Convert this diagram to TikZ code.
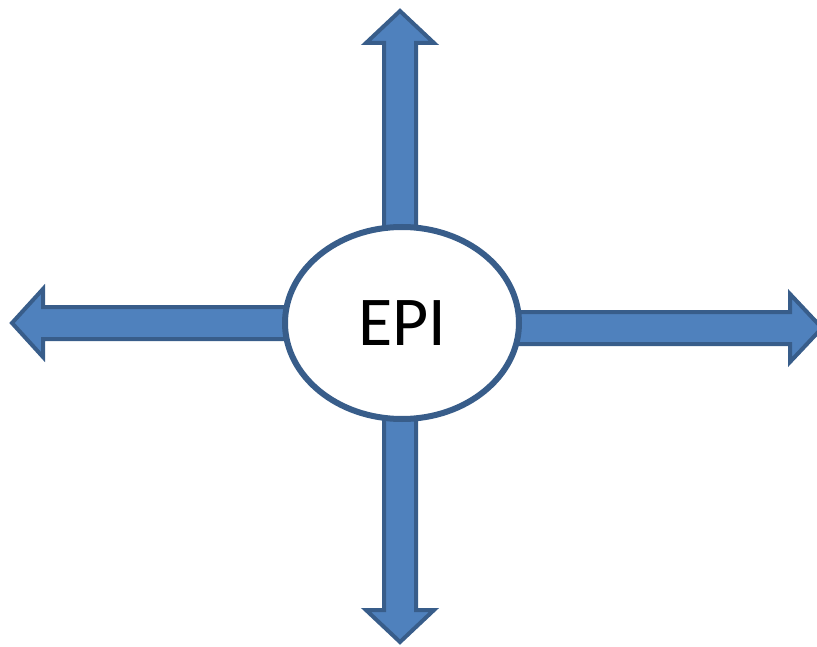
\documentclass[tikz,border=0pt]{standalone}
\usepackage{fontspec}
\setmainfont{Carlito}
\usetikzlibrary{shapes.geometric}
\usetikzlibrary{backgrounds}
\usepackage{xcolor}
\definecolor{arrowfill}{HTML}{4F81BD}
\definecolor{arrowline}{HTML}{385D8A}

\begin{document}
\begin{tikzpicture}[x=1pt, y=-1pt]
        % ================= 样式 =================
        \tikzset{
            hub/.style={ellipse, draw=arrowline, fill=white, line width=6pt, minimum width=234pt, minimum height=192pt, inner sep=0pt, font=\fontsize{70}{84}\selectfont},
            blockarrow/.style={draw=arrowline, fill=arrowfill, line width=4pt, line join=miter}
        }
        \useasboundingbox (0,0) rectangle (817,647);

        % 中心椭圆
        \node[hub] (epi) at (402,323) {EPI};

        % 四个方向的箭头 (放在椭圆下面)
        \begin{scope}[on background layer]
            % 上
            \draw[blockarrow] (384,250) -- (384,43) -- (366,43) -- (400,11) -- (434,43) -- (416,43) -- (416,250) -- cycle;
            % 下
            \draw[blockarrow] (384,400) -- (384,610) -- (366,610) -- (400,642) -- (434,610) -- (416,610) -- (416,400) -- cycle;
            % 左
            \draw[blockarrow] (300,307) -- (43,307) -- (43,289) -- (12,323) -- (43,357) -- (43,339) -- (300,339) -- cycle;
            % 右
            \draw[blockarrow] (500,312) -- (790,312) -- (790,294) -- (822,328) -- (790,362) -- (790,344) -- (500,344) -- cycle;
        \end{scope}
\end{tikzpicture}
\end{document}
